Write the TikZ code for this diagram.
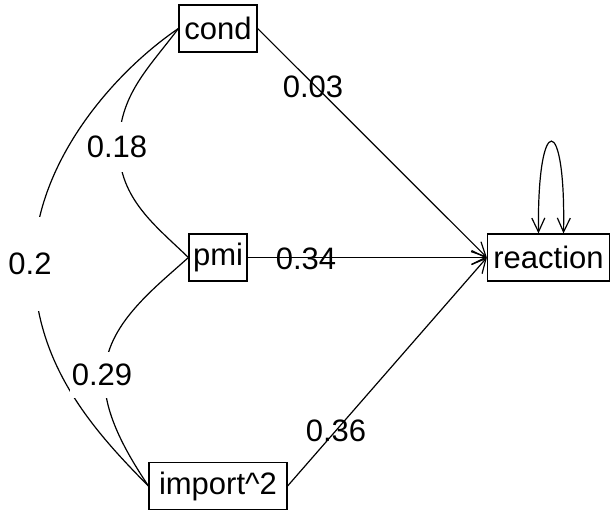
\documentclass[tikz,border=0pt]{standalone}
\usepackage{fontspec}
\setmainfont{Liberation Sans}
\usetikzlibrary{arrows.meta}
\begin{document}
\begin{tikzpicture}[x=1pt,y=-1pt,
  every node/.style={font=\fontsize{31}{37}\selectfont},
  var/.style={draw,line width=1.2pt,inner sep=0pt,minimum height=47pt},
  edge/.style={line width=1.2pt},
  arr/.style={edge,-{Straight Barb[length=14pt,width=14pt,line width=1.2pt]}},
  biarr/.style={edge,{Straight Barb[length=14pt,width=13pt,line width=1.2pt]}-{Straight Barb[length=14pt,width=13pt,line width=1.2pt]}},
  lab/.style={inner sep=0pt},
  clab/.style={fill=white,inner xsep=2pt,inner ysep=0pt}]
\useasboundingbox (0,0) rectangle (611,512);
% variables
\node[var,minimum width=78pt] (cond) at (218,28.5) {cond};
\node[var,minimum width=58pt] (pmi) at (218,257.5) {pmi};
\node[var,minimum width=138pt] (imp) at (218,486) {import\^{}2};
\node[var,minimum width=122pt] (re) at (548.5,257.5) {reaction};
% label anchor points on the curved edges
\coordinate (k18) at (119,147);
\coordinate (k20) at (34,264);
\coordinate (k29) at (105,375);
% regressions
\draw[arr] (cond.east) -- (re.west);
\draw[arr] (pmi.east) -- (re.west);
\draw[arr] (imp.east) -- (re.west);
% residual variance
\draw[biarr] ([xshift=-10pt]re.north) .. controls (537,111) and (566,111) .. ([xshift=15pt]re.north);
% covariances
\draw[edge] (cond.west) .. controls (148,69) and (119,95) .. (k18)
  .. controls (119,199) and (156,226) .. (pmi.west);
\draw[edge] (cond.west) .. controls (113,73) and (34,164) .. (k20)
  .. controls (34,364) and (93,430) .. (imp.west);
\draw[edge] (pmi.west) .. controls (156,287) and (105,325) .. (k29)
  .. controls (102,415) and (132,461) .. (imp.west);
% labels
\node[lab] (l03) at (313,87) {0.03};
\node[lab] (l34) at (306,258.5) {0.34};
\node[lab] (l36) at (336,431) {0.36};
\node[clab,minimum height=50pt] (l18) at (117,147) {0.18};
\node[clab,minimum height=94pt] (l20) at (30,264) {0.2};
\node[clab,minimum height=46pt] (l29) at (102,375) {0.29};
\end{tikzpicture}
\end{document}
